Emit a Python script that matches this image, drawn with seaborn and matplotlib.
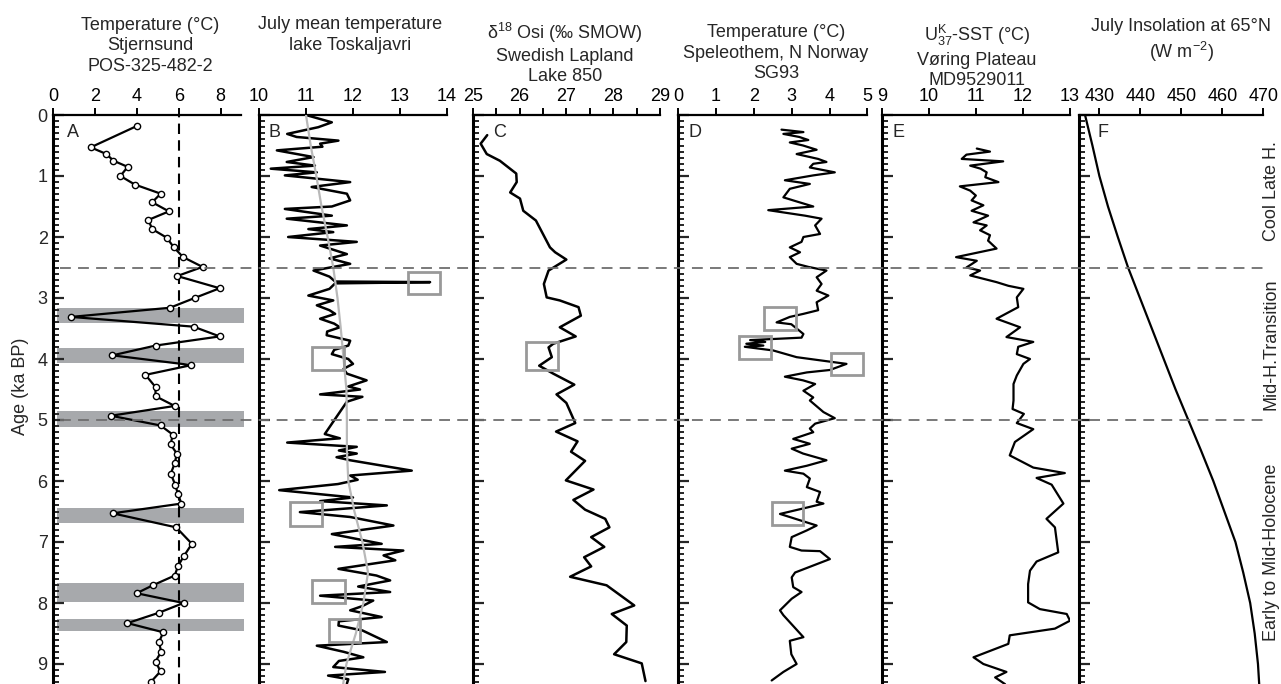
import matplotlib
matplotlib.use("Agg")
import matplotlib.pyplot as plt
import matplotlib.transforms as mtransforms
from matplotlib.lines import Line2D
from matplotlib.patches import Rectangle
from matplotlib.ticker import MultipleLocator
import seaborn as sns

# ---------------- data ----------------
# A: Stjernsund POS-325-482-2 temperature (°C)
a_age = [0.18, 0.53, 0.64, 0.75, 0.85, 1.0, 1.14, 1.29, 1.43, 1.58, 1.72, 1.87, 2.01, 2.17, 2.33,
         2.49, 2.64, 2.84, 3.0, 3.16, 3.31, 3.47, 3.63, 3.78, 3.94, 4.1, 4.26, 4.46, 4.61, 4.77,
         4.93, 5.09, 5.24, 5.4, 5.55, 5.71, 5.88, 6.06, 6.22, 6.37, 6.53, 6.76, 7.03, 7.23, 7.39,
         7.55, 7.71, 7.84, 8.0, 8.16, 8.33, 8.48, 8.64, 8.8, 8.96, 9.12, 9.29]
a_temp = [4.0, 1.79, 2.54, 2.88, 3.56, 3.21, 3.9, 5.14, 4.73, 5.53, 4.55, 4.73, 5.42, 5.77, 6.21,
          7.14, 5.93, 7.96, 6.76, 5.58, 0.85, 6.71, 7.96, 4.89, 2.83, 6.61, 4.41, 4.89, 4.89, 5.81,
          2.76, 5.13, 5.72, 5.61, 5.91, 5.81, 5.62, 5.83, 5.97, 6.13, 2.84, 5.88, 6.63, 6.25, 5.97,
          5.81, 4.76, 3.99, 6.23, 5.05, 3.55, 5.26, 5.06, 5.16, 4.89, 5.13, 4.68]
a_mean = 6.0
a_band_top = [3.16, 3.82, 4.85, 6.44, 7.67, 8.26]
a_band_bottom = [3.41, 4.07, 5.11, 6.69, 7.98, 8.46]

# B: July mean temperature, lake Toskaljavri
b_age = [0.0, 0.12, 0.2, 0.31, 0.36, 0.42, 0.47, 0.52, 0.58, 0.69, 0.77, 0.83, 0.88, 0.94, 0.99,
         1.1, 1.18, 1.29, 1.4, 1.5, 1.54, 1.65, 1.7, 1.81, 1.87, 1.92, 2.0, 2.08, 2.14, 2.28,
         2.35, 2.44, 2.55, 2.65, 2.73, 2.74, 2.76, 2.85, 2.96, 3.04, 3.12, 3.2, 3.26, 3.34, 3.42,
         3.48, 3.55, 3.61, 3.7, 3.78, 3.85, 3.92, 4.0, 4.08, 4.16, 4.24, 4.35, 4.45, 4.5, 4.58,
         4.62, 4.7, 5.23, 5.3, 5.37, 5.44, 5.5, 5.55, 5.61, 5.66, 5.83, 5.91, 5.98, 6.05, 6.15,
         6.27, 6.33, 6.4, 6.51, 6.59, 6.73, 6.87, 7.03, 7.08, 7.14, 7.22, 7.3, 7.44, 7.55, 7.63,
         7.73, 7.82, 7.88, 7.96, 8.05, 8.12, 8.23, 8.3, 8.37, 8.45, 8.64, 8.7, 8.8, 8.89, 8.95,
         9.05, 9.13, 9.19, 9.25, 9.32]
b_temp = [11.0, 11.55, 11.26, 10.6, 10.8, 11.69, 11.3, 11.35, 10.38, 11.16, 10.59, 11.19, 10.25, 11.23, 10.55,
          11.94, 11.12, 11.87, 11.94, 11.55, 10.55, 11.55, 10.59, 11.87, 11.05, 11.58, 10.62, 12.08, 11.3, 11.87,
          11.5, 11.94, 11.16, 11.5, 11.62, 13.64, 11.62, 11.5, 11.05, 11.58, 11.23, 11.5, 11.62, 11.3, 11.6,
          11.72, 11.45, 11.44, 11.94, 11.9, 11.6, 11.55, 11.9, 12.0, 11.8, 11.87, 12.29, 11.9, 12.15, 11.3,
          12.2, 11.87, 11.4, 11.72, 10.6, 12.08, 11.7, 12.08, 11.65, 11.94, 13.25, 11.94, 12.1, 11.68, 10.43,
          12.0, 11.3, 12.72, 10.87, 11.94, 12.86, 11.55, 12.61, 11.62, 13.07, 12.65, 12.9, 11.69, 12.5, 12.79,
          12.11, 12.79, 11.3, 12.43, 12.2, 11.94, 12.61, 11.7, 11.69, 12.2, 12.72, 11.23, 11.8, 12.22, 11.7,
          11.58, 12.68, 11.47, 11.9, 11.87]
b_smooth_age = [0.0, 0.5, 1.0, 1.5, 2.0, 2.5, 3.0, 3.5, 4.0, 4.5, 5.0, 5.5, 6.0, 6.5, 7.0, 7.5, 8.0, 8.5, 9.0, 9.33]
b_smooth = [11.0, 11.1, 11.22, 11.33, 11.46, 11.58, 11.67, 11.74, 11.8, 11.86, 11.87, 11.87, 11.9, 12.03,
            12.2, 12.32, 12.22, 12.06, 11.86, 11.79]
b_box_x0 = [13.18, 11.13, 10.66, 11.13, 11.48]
b_box_x1 = [13.85, 11.81, 11.33, 11.82, 12.15]
b_box_y0 = [2.57, 3.81, 6.35, 7.63, 8.26]
b_box_y1 = [2.93, 4.18, 6.73, 8.0, 8.64]

# C: d18O Swedish Lapland, Lake 850
c_age = [0.33, 0.47, 0.64, 0.75, 0.96, 1.1, 1.27, 1.37, 1.57, 1.73, 2.17, 2.25, 2.37, 2.55, 2.77,
         2.99, 3.04, 3.15, 3.29, 3.48, 3.63, 3.75, 3.81, 3.97, 4.11, 4.24, 4.42, 4.58, 4.72, 5.05,
         5.19, 5.35, 5.52, 5.67, 5.99, 6.14, 6.31, 6.47, 6.62, 6.76, 6.92, 7.08, 7.25, 7.4, 7.57,
         7.71, 8.04, 8.18, 8.37, 8.64, 8.84, 8.99, 9.28]
c_val = [25.31, 25.17, 25.3, 25.58, 25.93, 25.94, 25.8, 26.01, 26.08, 26.35, 26.65, 26.76, 27.0, 26.62, 26.52,
         26.58, 26.86, 27.26, 27.31, 26.86, 27.2, 26.72, 26.62, 26.69, 26.42, 26.72, 27.17, 26.79, 27.0, 27.19,
         26.78, 27.24, 27.1, 27.4, 26.99, 27.58, 27.15, 27.4, 27.83, 27.92, 27.53, 27.81, 27.38, 27.53, 27.08,
         27.86, 28.45, 27.97, 28.29, 28.28, 28.02, 28.61, 28.69]
c_box_x0 = [26.14]
c_box_x1 = [26.83]
c_box_y0 = [3.72]
c_box_y1 = [4.18]

# D: Speleothem SG93 temperature
d_age = [0.24, 0.28, 0.31, 0.36, 0.41, 0.45, 0.5, 0.57, 0.64, 0.72, 0.77, 0.8, 0.86, 0.94, 0.99,
         1.07, 1.13, 1.21, 1.35, 1.4, 1.5, 1.56, 1.65, 1.7, 1.81, 1.95, 2.0, 2.08, 2.17, 2.25,
         2.33, 2.44, 2.49, 2.55, 2.66, 2.77, 2.88, 2.96, 3.07, 3.2, 3.26, 3.31, 3.4, 3.43, 3.59,
         3.65, 3.69, 3.72, 3.75, 3.78, 3.8, 3.86, 3.97, 4.08, 4.18, 4.22, 4.29, 4.35, 4.41, 4.52,
         4.63, 4.68, 4.87, 4.97, 5.06, 5.14, 5.2, 5.31, 5.39, 5.47, 5.55, 5.66, 5.75, 5.83, 5.88,
         5.96, 6.1, 6.18, 6.34, 6.37, 6.43, 6.54, 6.73, 6.81, 6.92, 7.08, 7.14, 7.15, 7.28, 7.5,
         7.58, 7.74, 7.82, 7.93, 8.12, 8.2, 8.56, 8.62, 8.84, 9.0, 9.13, 9.27]
d_val = [2.73, 3.31, 2.78, 3.2, 3.44, 2.95, 3.3, 3.66, 3.13, 3.7, 3.92, 3.57, 3.48, 4.14, 3.57,
         2.82, 3.48, 2.95, 2.78, 3.04, 3.57, 2.38, 3.35, 3.79, 3.62, 3.75, 3.31, 3.26, 2.95, 3.22,
         2.95, 3.13, 3.44, 3.92, 3.66, 3.79, 3.66, 3.97, 3.66, 3.7, 3.31, 2.95, 2.6, 2.99, 3.31,
         3.26, 1.9, 2.3, 1.8, 2.25, 1.76, 2.51, 3.13, 4.45, 4.01, 3.4, 2.82, 3.3, 3.62, 3.31,
         3.57, 3.48, 3.84, 4.14, 3.62, 3.48, 3.57, 3.04, 3.48, 3.0, 3.3, 3.92, 3.4, 2.82, 3.31,
         3.48, 3.4, 3.75, 3.66, 3.84, 3.44, 2.69, 3.66, 3.4, 3.0, 2.95, 3.26, 3.75, 4.01, 3.09,
         3.0, 3.04, 3.26, 3.0, 2.69, 2.78, 3.31, 2.95, 2.99, 3.13, 2.78, 2.47]
d_box_x0 = [2.27, 1.6, 4.04, 2.47]
d_box_x1 = [3.11, 2.45, 4.88, 3.31]
d_box_y0 = [3.14, 3.63, 3.9, 6.35]
d_box_y1 = [3.52, 4.0, 4.27, 6.72]

# E: UK37-SST Voring Plateau MD9529011
e_age = [0.55, 0.6, 0.65, 0.72, 0.76, 0.83, 0.88, 0.94, 1.02, 1.1, 1.17, 1.24, 1.32, 1.4, 1.48,
         1.57, 1.65, 1.76, 1.81, 1.89, 1.97, 2.06, 2.19, 2.33, 2.39, 2.5, 2.55, 2.63, 2.74, 2.8,
         2.85, 2.99, 3.15, 3.34, 3.48, 3.64, 3.72, 3.8, 3.92, 4.0, 4.08, 4.27, 4.41, 4.68, 4.82,
         4.9, 5.05, 5.15, 5.36, 5.58, 5.78, 5.87, 5.95, 6.06, 6.37, 6.62, 6.76, 7.17, 7.32, 7.47,
         7.69, 7.99, 8.1, 8.18, 8.29, 8.42, 8.53, 8.67, 8.89, 9.0, 9.13, 9.22, 9.33]
e_val = [11.02, 11.3, 10.8, 10.7, 11.58, 10.88, 11.1, 11.23, 11.2, 11.48, 10.66, 10.88, 11.0, 10.91, 11.16,
         10.91, 11.26, 10.95, 11.23, 11.09, 11.3, 11.26, 11.44, 10.58, 11.02, 10.8, 11.09, 10.88, 11.44, 11.69,
         12.01, 11.87, 11.9, 11.44, 11.94, 11.65, 12.22, 11.9, 11.87, 12.15, 12.01, 11.87, 11.8, 11.8, 11.78,
         12.02, 11.87, 12.22, 11.83, 11.72, 12.22, 12.89, 12.29, 12.61, 12.86, 12.5, 12.68, 12.75, 12.29, 12.15,
         12.11, 12.11, 12.36, 12.93, 13.0, 12.68, 11.72, 11.69, 10.95, 11.16, 11.65, 11.41, 11.62]

# F: July insolation at 65N
f_age = [0.0, 0.5, 1.0, 1.5, 2.0, 2.5, 3.0, 3.5, 4.0, 4.5, 5.0, 5.5, 6.0, 6.5, 7.0, 7.5, 8.0, 8.5, 9.0, 9.33]
f_val = [426.5, 428.3, 430.0, 432.1, 434.5, 437.0, 439.9, 442.8, 445.7, 448.6, 451.7, 454.8, 457.8, 460.5,
         463.2, 465.1, 466.8, 467.9, 468.7, 469.0]

boundaries = [2.5, 5.0]
period_labels = ["Cool Late H.", "Mid-H.Transition", "Early to Mid-Holocene"]
period_centres = [1.25, 3.75, 7.17]

titles = ["Temperature (°C)\nStjernsund\nPOS-325-482-2",
          "July mean temperature\nlake Toskaljavri",
          "δ$^{\\mathrm{18}}$ Osi (‰ SMOW)\nSwedish Lapland\nLake 850",
          "Temperature (°C)\nSpeleothem, N Norway\nSG93",
          "U$^{\\mathrm{K}}_{\\mathrm{37}}$-SST (°C)\nVøring Plateau\nMD9529011",
          "July Insolation at 65°N\n(W m$^{\\mathrm{-2}}$)"]
letters = ["A", "B", "C", "D", "E", "F"]
xlims = [(0, 9), (10, 14), (25, 29), (0, 5), (9, 13), (425.1, 470)]
xticks = [[0, 2, 4, 6, 8], [10, 11, 12, 13, 14], [25, 26, 27, 28, 29], [0, 1, 2, 3, 4, 5],
          [9, 10, 11, 12, 13], [430, 440, 450, 460, 470]]
age_ticks = list(range(10))

# ---------------- style ----------------
sns.set_style("ticks")
plt.rcParams['font.family'] = ['Liberation Sans', 'DejaVu Sans']
plt.rcParams['mathtext.fontset'] = 'custom'
plt.rcParams['mathtext.rm'] = 'Liberation Sans'
plt.rcParams['mathtext.it'] = 'Liberation Sans:italic'
plt.rcParams['mathtext.bf'] = 'Liberation Sans:bold'

W, H = 1281, 684
fig = plt.figure(figsize=(W / 100, H / 100), dpi=100)

top_px = 115
ymax = (H - top_px) / 61.0
ax_h = (H - top_px) / H
lefts = [53.3, 259, 472.7, 678.3, 881.7, 1079.3]
rights = [241.4, 447, 660, 867.3, 1070, 1263.3]
title_x = [150, 350, 565, 776, 977, 1181]
title_y = [46, 35, 53, 53, 56, 41]
letter_x = [0.105, 0.085, 0.146, 0.09, 0.087, 0.13]
FS = 13

axes = []
for i in range(6):
    ax = fig.add_axes([lefts[i] / W, 0, (rights[i] - lefts[i]) / W, ax_h])
    ax.set_facecolor('none')
    ax.set_xlim(*xlims[i])
    ax.set_ylim(ymax, 0)
    for s in ['right', 'bottom']:
        ax.spines[s].set_visible(False)
    ax.spines['left'].set_linewidth(2.2)
    ax.spines['top'].set_linewidth(1.6)
    ax.spines['left'].set_color('black')
    ax.spines['top'].set_color('black')
    ax.xaxis.tick_top()
    ax.set_xticks(xticks[i])
    if i == 2:
        ax.xaxis.set_minor_locator(MultipleLocator(0.5))
    ax.tick_params(axis='x', which='both', direction='out', length=5, width=1.4,
                   top=True, bottom=False, labelsize=FS, pad=2, colors='black')
    ax.set_yticks(age_ticks)
    ax.yaxis.set_minor_locator(MultipleLocator(0.1))
    ax.tick_params(axis='y', which='major', direction='in', length=8, width=1.6, left=True, right=False,
                   labelsize=FS, labelleft=(i == 0), pad=4)
    ax.tick_params(axis='y', which='minor', direction='in', length=4.5, width=1.4, left=True, right=False)
    ax.text(letter_x[i], 0.985, letters[i], transform=ax.transAxes, ha='center', va='top', fontsize=FS)
    fig.text(title_x[i] / W, 1 - title_y[i] / H, titles[i], ha='center', va='center', fontsize=FS,
             linespacing=1.25)
    axes.append(ax)

axA, axB, axC, axD, axE, axF = axes

# A
for t, b in zip(a_band_top, a_band_bottom):
    axA.axhspan(t, b, xmin=0.02, xmax=1.012, color='#a7a9ac', lw=0, zorder=0, clip_on=False)
axA.axvline(a_mean, color='black', lw=1.5, dashes=(5, 3), zorder=1)
sns.lineplot(x=a_temp, y=a_age, sort=False, estimator=None, color='black', lw=1.6, ax=axA,
             marker='o', markersize=4.5, markerfacecolor='white', markeredgecolor='black',
             markeredgewidth=1.0, zorder=3)

# B
sns.lineplot(x=b_temp, y=b_age, sort=False, estimator=None, color='black', lw=1.8, ax=axB, zorder=2)
sns.lineplot(x=b_smooth, y=b_smooth_age, sort=False, estimator=None, color='#b9b9b9', lw=1.6, ax=axB, zorder=3)
for x0, x1, y0, y1 in zip(b_box_x0, b_box_x1, b_box_y0, b_box_y1):
    axB.add_patch(Rectangle((x0, y0), x1 - x0, y1 - y0, fill=False, edgecolor='#999999', lw=2, zorder=4))

# C
sns.lineplot(x=c_val, y=c_age, sort=False, estimator=None, color='black', lw=1.8, ax=axC)
for x0, x1, y0, y1 in zip(c_box_x0, c_box_x1, c_box_y0, c_box_y1):
    axC.add_patch(Rectangle((x0, y0), x1 - x0, y1 - y0, fill=False, edgecolor='#999999', lw=2, zorder=4))

# D
sns.lineplot(x=d_val, y=d_age, sort=False, estimator=None, color='black', lw=1.6, ax=axD)
for x0, x1, y0, y1 in zip(d_box_x0, d_box_x1, d_box_y0, d_box_y1):
    axD.add_patch(Rectangle((x0, y0), x1 - x0, y1 - y0, fill=False, edgecolor='#999999', lw=2, zorder=4))

# E
sns.lineplot(x=e_val, y=e_age, sort=False, estimator=None, color='black', lw=1.6, ax=axE)

# F
sns.lineplot(x=f_val, y=f_age, sort=False, estimator=None, color='black', lw=1.6, ax=axF)

for ax in axes:
    ax.set_xlabel('')
    ax.set_ylabel('')
    if ax.get_legend() is not None:
        ax.get_legend().remove()

# period boundaries across all panels
blend = mtransforms.blended_transform_factory(fig.transFigure, axA.transData)
for yb in boundaries:
    fig.add_artist(Line2D([60 / W, 1263 / W], [yb, yb], transform=blend, color='#6e6e6e',
                          lw=1.3, dashes=(6, 4)))

for lab, yc in zip(period_labels, period_centres):
    fig.text(1271 / W, yc, lab, transform=blend, rotation=90, ha='center', va='center', fontsize=FS)

fig.text(21 / W, 1 - 386 / H, "Age (ka BP)", rotation=90, ha='center', va='center', fontsize=FS)

fig.savefig("out.png", dpi=100)
